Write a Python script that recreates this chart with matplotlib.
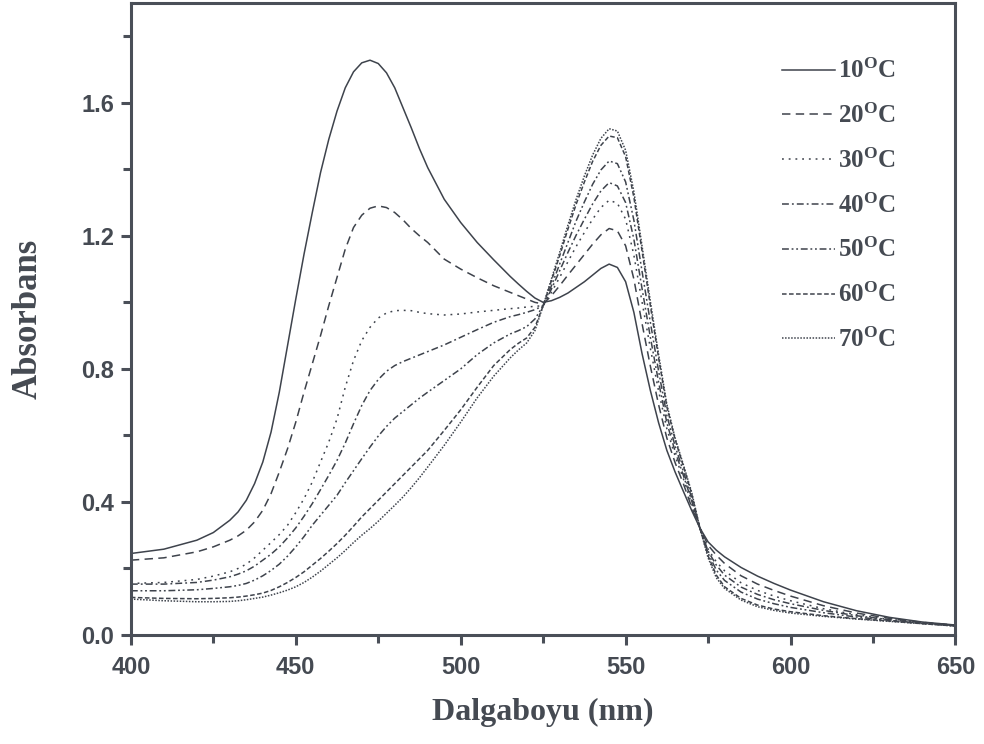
import matplotlib
matplotlib.use("Agg")
import matplotlib.pyplot as plt
from matplotlib.ticker import MultipleLocator

# Wavelength grid (nm)
wavelength = [400, 410, 420, 425, 430, 432.5, 435, 437.5, 440, 442.5, 445, 447.5, 450,
              452.5, 455, 457.5, 460, 462.5, 465, 467.5, 470, 472.5, 475, 477.5, 480,
              482.5, 485, 487.5, 490, 495, 500, 505, 510, 515, 517.5, 520, 522.5, 525,
              527.5, 530, 532.5, 535, 537.5, 540, 542.5, 545, 547.5, 550, 552.5, 555,
              557.5, 560, 562.5, 565, 567.5, 570, 572.5, 575, 577.5, 580, 585, 590,
              595, 600, 610, 620, 630, 640, 650]

abs_10 = [0.245, 0.258, 0.285, 0.308, 0.345, 0.37, 0.405, 0.455, 0.52, 0.61, 0.73, 0.87, 1.01,
          1.145, 1.27, 1.39, 1.49, 1.575, 1.645, 1.693, 1.72, 1.728, 1.718, 1.69, 1.645,
          1.585, 1.525, 1.462, 1.405, 1.31, 1.24, 1.18, 1.128, 1.078, 1.055, 1.033, 1.013, 1.0,
          1.005, 1.015, 1.028, 1.045, 1.062, 1.082, 1.102, 1.115, 1.105, 1.062, 0.97, 0.845,
          0.735, 0.638, 0.555, 0.49, 0.432, 0.375, 0.322, 0.28, 0.255, 0.235, 0.203, 0.177,
          0.155, 0.135, 0.10, 0.073, 0.053, 0.039, 0.03]

abs_20 = [0.225, 0.232, 0.25, 0.265, 0.285, 0.298, 0.315, 0.34, 0.375, 0.425, 0.49, 0.56, 0.64,
          0.73, 0.815, 0.90, 0.99, 1.075, 1.16, 1.225, 1.262, 1.283, 1.29, 1.285, 1.27,
          1.248, 1.222, 1.20, 1.18, 1.13, 1.10, 1.074, 1.05, 1.03, 1.02, 1.01, 1.0, 0.995,
          1.02, 1.05, 1.082, 1.113, 1.144, 1.175, 1.203, 1.222, 1.215, 1.17, 1.07, 0.935,
          0.808, 0.692, 0.592, 0.518, 0.455, 0.385, 0.322, 0.27, 0.24, 0.215, 0.178, 0.153,
          0.134, 0.117, 0.088, 0.066, 0.05, 0.038, 0.03]

abs_30 = [0.155, 0.158, 0.167, 0.177, 0.19, 0.20, 0.213, 0.232, 0.255, 0.278, 0.302, 0.33, 0.368,
          0.41, 0.46, 0.52, 0.58, 0.65, 0.745, 0.825, 0.885, 0.925, 0.953, 0.968, 0.975,
          0.976, 0.975, 0.97, 0.966, 0.962, 0.965, 0.971, 0.976, 0.981, 0.983, 0.986, 0.988, 0.99,
          1.03, 1.075, 1.122, 1.168, 1.21, 1.25, 1.285, 1.307, 1.298, 1.25, 1.142, 1.0,
          0.862, 0.733, 0.62, 0.538, 0.47, 0.395, 0.322, 0.258, 0.22, 0.193, 0.157, 0.134,
          0.117, 0.103, 0.079, 0.061, 0.047, 0.037, 0.029]

abs_40 = [0.153, 0.153, 0.158, 0.165, 0.175, 0.183, 0.193, 0.207, 0.225, 0.243, 0.265, 0.292, 0.322,
          0.357, 0.395, 0.437, 0.48, 0.525, 0.577, 0.635, 0.69, 0.735, 0.768, 0.793, 0.81,
          0.822, 0.832, 0.842, 0.852, 0.872, 0.895, 0.918, 0.94, 0.957, 0.963, 0.97, 0.978, 0.99,
          1.04, 1.095, 1.15, 1.202, 1.25, 1.296, 1.335, 1.36, 1.35, 1.30, 1.19, 1.04,
          0.895, 0.76, 0.638, 0.552, 0.48, 0.404, 0.322, 0.252, 0.21, 0.18, 0.144, 0.122,
          0.106, 0.094, 0.074, 0.058, 0.046, 0.036, 0.028]

abs_50 = [0.133, 0.133, 0.136, 0.14, 0.145, 0.149, 0.155, 0.165, 0.178, 0.194, 0.213, 0.237, 0.265,
          0.296, 0.33, 0.36, 0.39, 0.42, 0.458, 0.494, 0.53, 0.565, 0.598, 0.627, 0.652,
          0.672, 0.692, 0.712, 0.73, 0.765, 0.80, 0.843, 0.878, 0.905, 0.915, 0.927, 0.95, 0.99,
          1.05, 1.115, 1.18, 1.245, 1.302, 1.355, 1.398, 1.425, 1.417, 1.362, 1.247, 1.092,
          0.94, 0.793, 0.66, 0.568, 0.492, 0.413, 0.322, 0.246, 0.195, 0.164, 0.129, 0.108,
          0.094, 0.083, 0.067, 0.054, 0.044, 0.035, 0.028]

abs_60 = [0.113, 0.11, 0.109, 0.11, 0.112, 0.114, 0.117, 0.121, 0.126, 0.134, 0.145, 0.158, 0.173,
          0.19, 0.21, 0.23, 0.252, 0.275, 0.30, 0.327, 0.355, 0.38, 0.405, 0.43, 0.455,
          0.48, 0.505, 0.53, 0.555, 0.615, 0.677, 0.745, 0.81, 0.858, 0.877, 0.893, 0.925, 0.99,
          1.065, 1.14, 1.22, 1.295, 1.362, 1.424, 1.472, 1.50, 1.495, 1.438, 1.316, 1.153,
          0.99, 0.833, 0.686, 0.588, 0.508, 0.425, 0.322, 0.238, 0.18, 0.145, 0.11, 0.09,
          0.078, 0.07, 0.058, 0.049, 0.042, 0.034, 0.027]

abs_70 = [0.108, 0.103, 0.10, 0.10, 0.101, 0.103, 0.106, 0.11, 0.114, 0.12, 0.127, 0.135, 0.145,
          0.158, 0.174, 0.192, 0.212, 0.232, 0.254, 0.278, 0.30, 0.32, 0.342, 0.366, 0.39,
          0.415, 0.443, 0.473, 0.505, 0.57, 0.64, 0.713, 0.778, 0.833, 0.857, 0.878, 0.915, 0.99,
          1.07, 1.15, 1.232, 1.31, 1.38, 1.443, 1.493, 1.522, 1.515, 1.457, 1.333, 1.168,
          1.003, 0.843, 0.693, 0.592, 0.512, 0.43, 0.322, 0.232, 0.172, 0.14, 0.105, 0.085,
          0.074, 0.066, 0.056, 0.048, 0.041, 0.034, 0.027]

temperatures = ["10", "20", "30", "40", "50", "60", "70"]
series = [abs_10, abs_20, abs_30, abs_40, abs_50, abs_60, abs_70]

x_ticks = [400, 450, 500, 550, 600, 650]
y_ticks = [0.0, 0.4, 0.8, 1.2, 1.6]

ink = "#3e434c"
text_ink = "#454a52"
frame_ink = "#4a4f58"

styles = [
    "-",
    (0, (5.5, 3.5)),
    (0, (1.2, 3.2)),
    (0, (4.5, 2.0, 1.2, 2.0)),
    (0, (4.5, 1.8, 1.2, 1.8, 1.2, 1.8)),
    (0, (3.0, 1.6)),
    (0, (1.0, 1.0)),
]

plt.rcParams["mathtext.fontset"] = "custom"
plt.rcParams["mathtext.rm"] = "Liberation Serif:bold"
plt.rcParams["mathtext.bf"] = "Liberation Serif:bold"
plt.rcParams["mathtext.it"] = "Liberation Serif:bold"

fig = plt.figure(figsize=(9.84, 7.44), dpi=100)
ax = fig.add_axes([0.133, 0.1465, 0.838, 0.8495])

for temp, vals, ls in zip(temperatures, series, styles):
    ax.plot(wavelength, vals, color=ink, lw=1.1, linestyle=ls,
            label=temp + r"$^{\mathrm{O}}$C")

ax.set_xlim(400, 650)
ax.set_ylim(0, 1.9)
ax.set_xticks(x_ticks)
ax.set_yticks(y_ticks)
ax.set_yticklabels([f"{v:.1f}" for v in y_ticks])
ax.xaxis.set_minor_locator(MultipleLocator(25))
ax.yaxis.set_minor_locator(MultipleLocator(0.2))

for side in ["left", "right", "top", "bottom"]:
    ax.spines[side].set_linewidth(2.2)
    ax.spines[side].set_color(frame_ink)

ax.tick_params(which="both", direction="out", color=frame_ink, width=2.2,
               top=False, right=False)
ax.tick_params(which="major", length=7, pad=5, labelsize=17, labelcolor=text_ink)
ax.tick_params(axis="x", which="major", pad=8)
ax.tick_params(which="minor", length=6)
for lab in ax.get_xticklabels() + ax.get_yticklabels():
    lab.set_fontfamily("Liberation Sans")
    lab.set_fontweight("bold")

ax.set_xlabel("Dalgaboyu (nm)", fontsize=23, fontfamily="Liberation Serif",
              fontweight="bold", color=text_ink)
ax.set_ylabel("Absorbans", fontsize=25, fontfamily="Liberation Serif",
              fontweight="bold", color=text_ink)
ax.xaxis.set_label_coords(0.5, -0.1)
ax.yaxis.set_label_coords(-0.105, 0.5)

leg = ax.legend(loc="upper right", bbox_to_anchor=(0.955, 0.947), frameon=False,
                handlelength=2.1, handletextpad=0.15, labelspacing=0.82,
                prop={"family": "Liberation Serif", "weight": "bold", "size": 18})
for t in leg.get_texts():
    t.set_color(text_ink)

fig.savefig("out.png", dpi=100, facecolor="white")
